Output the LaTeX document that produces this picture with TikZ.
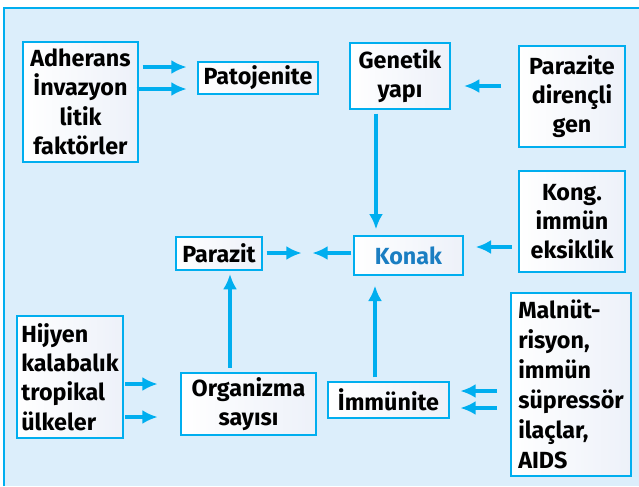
\documentclass[tikz,border=0pt]{standalone}
\usepackage{fontspec}
\setmainfont{Fira Sans}
\usepackage{tikz}
\usetikzlibrary{arrows.meta}
\definecolor{frameblue}{HTML}{00AEEF}
\definecolor{paleblue}{HTML}{DCEEFB}
\definecolor{konakblue}{HTML}{1B7EC2}
\definecolor{boxshade}{HTML}{EDF1F9}

\begin{document}
\begin{tikzpicture}[x=0.75pt,y=-0.75pt,
    box/.style={draw=frameblue,line width=1pt,left color=white,right color=boxshade,inner sep=1.5pt,
        font=\fontsize{17.5}{22}\selectfont\bfseries,align=center},
    arr/.style={draw=frameblue,line width=2.4pt,-{Latex[length=11.5pt,width=10.5pt]}}]
    \useasboundingbox (0,0) rectangle (639,486);
    \fill[paleblue] (4,8) rectangle (639,486);
    \draw[frameblue,line width=1.5pt] (4,486) -- (4,8) -- (639,8);
    % boxes
    \node[box,minimum width=115pt*0.75,minimum height=120pt*0.75] (adh) at (80.5,102) {Adherans\\İnvazyon\\litik\\faktörler};
    \node[box,minimum width=120pt*0.75,minimum height=32pt*0.75] (pat) at (258,78) {Patojenite};
    \node[box,minimum width=100pt*0.75,minimum height=66pt*0.75] (gen) at (400,76) {Genetik\\yapı};
    \node[box,minimum width=106pt*0.75,minimum height=101pt*0.75] (pdg) at (572,96.5) {Parazite\\dirençli\\gen};
    \node[box,minimum width=106pt*0.75,minimum height=101pt*0.75] (kong) at (572,221.5) {Kong.\\immün\\eksiklik};
    \node[box,minimum width=109pt*0.75,minimum height=39pt*0.75,text=konakblue] (kon) at (408.5,255.5) {Konak};
    \node[box,minimum width=86pt*0.75,minimum height=33pt*0.75] (par) at (219,253.5) {Parazit};
    \node[box,minimum width=121pt*0.75,minimum height=36pt*0.75] (imm) at (388.5,400) {İmmünite};
    \node[box,minimum width=120pt*0.75,minimum height=183pt*0.75,align=left,
        font=\fontsize{17.5}{22.5}\selectfont\bfseries] (mal) at (571,384.5) {Malnüt-\\risyon,\\immün\\süpressör\\ilaçlar,\\AIDS};
    \node[box,minimum width=106pt*0.75,minimum height=122pt*0.75,align=left] (hij) at (70,377) {Hijyen\\kalabalık\\tropikal\\ülkeler};
    \node[box,minimum width=135pt*0.75,minimum height=62pt*0.75] (org) at (248.5,404) {Organizma\\sayısı};
    % arrow ends
    \coordinate (mid) at (307,253);
    \draw[arr,shorten <=3pt,shorten >=8pt] (adh.east |- 0,67) -- (pat.west |- 0,67);
    \draw[arr,shorten <=-1.5pt,shorten >=8pt] (adh.east |- 0,89) -- (pat.west |- 0,89);
    \draw[arr,shorten <=13pt,shorten >=10pt] (pdg.west |- 0,86) -- (gen.east |- 0,86);
    \draw[arr,shorten <=3pt,shorten >=4.5pt] (376,0 |- gen.south) -- (376,0 |- kon.north);
    \draw[arr,shorten <=5pt,shorten >=9pt] (kong.west |- 0,247) -- (kon.east |- 0,247);
    \draw[arr,shorten <=3pt,shorten >=4pt] (par.east |- mid) -- (mid);
    \draw[arr,shorten <=1.5pt,shorten >=4pt] (kon.west |- mid) -- (mid);
    \draw[arr,shorten <=3pt,shorten >=7.5pt] (375,0 |- imm.north) -- (375,0 |- kon.south);
    \draw[arr,shorten <=10pt,shorten >=8pt] (mal.west |- 0,391) -- (imm.east |- 0,391);
    \draw[arr,shorten <=10pt,shorten >=8pt] (mal.west |- 0,408) -- (imm.east |- 0,408);
    \draw[arr,shorten <=1pt,shorten >=17pt] (hij.east |- 0,384) -- (org.west |- 0,384);
    \draw[arr,shorten <=1pt,shorten >=17pt] (hij.east |- 0,417) -- (org.west |- 0,417);
    \draw[arr,shorten <=3.5pt,shorten >=2.5pt] (230,0 |- org.north) -- (230,0 |- par.south);
\end{tikzpicture}
\end{document}
